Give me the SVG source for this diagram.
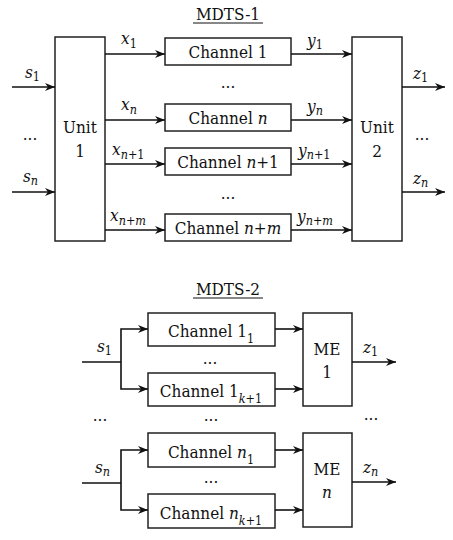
<svg xmlns="http://www.w3.org/2000/svg" width="453" height="540" viewBox="0 0 453 540">
<style>
text{font-family:'DejaVu Serif Condensed','DejaVu Serif',serif;font-stretch:semi-condensed;font-size:17px;fill:#111}
.c{text-anchor:middle}
.i{font-style:italic}
.s{font-size:12.5px}
.box{fill:#fff;stroke:#222;stroke-width:1.5}
.ln{fill:none;stroke:#111;stroke-width:1.6}
.ar{fill:none;stroke:#111;stroke-width:1.6;marker-end:url(#ah)}
</style>
<defs>
<marker id="ah" viewBox="0 0 10 8" refX="10" refY="4" markerWidth="10" markerHeight="8" markerUnits="userSpaceOnUse" orient="auto">
<path d="M0,0 L10,4 L0,8 L3,4 Z" fill="#111"/>
</marker>
</defs>
<rect width="453" height="540" fill="#fff"/>

<g id="title1">
<text class="c" x="228" y="20">MDTS-1</text>
<line x1="193" y1="23" x2="263" y2="23" stroke="#111" stroke-width="1"/>
</g>
<g id="unit1"><rect class="box" x="55" y="37" width="50" height="204"/><text class="c" x="80" y="133">Unit</text><text class="c" x="80" y="157">1</text></g>
<g id="ch1"><rect class="box" x="165" y="38" width="126" height="27"/><text class="c" x="228" y="58">Channel 1</text></g>
<g id="chn"><rect class="box" x="165" y="104" width="126" height="27"/><text class="c" x="228" y="124">Channel <tspan class="i">n</tspan></text></g>
<g id="chn1"><rect class="box" x="165" y="148" width="126" height="27"/><text class="c" x="228" y="168">Channel <tspan class="i">n</tspan>+1</text></g>
<g id="chnm"><rect class="box" x="165" y="214" width="126" height="27"/><text class="c" x="228" y="234">Channel <tspan class="i">n</tspan>+<tspan class="i">m</tspan></text></g>
<g id="unit2"><rect class="box" x="352" y="37" width="50" height="204"/><text class="c" x="377" y="133">Unit</text><text class="c" x="377" y="157">2</text></g>

<g id="title2">
<text class="c" x="228" y="295">MDTS-2</text>
<line x1="193" y1="298" x2="263" y2="298" stroke="#111" stroke-width="1"/>
</g>
<g id="c11"><rect class="box" x="148" y="313" width="127" height="33"/><text class="c" x="211" y="337">Channel 1<tspan class="s" dy="6">1</tspan></text></g>
<g id="c1k"><rect class="box" x="148" y="373" width="127" height="33"/><text class="c" x="211" y="397">Channel 1<tspan class="s i" dy="6">k</tspan><tspan class="s">+1</tspan></text></g>
<g id="cn1"><rect class="box" x="148" y="433" width="127" height="34"/><text class="c" x="211" y="458">Channel <tspan class="i">n</tspan><tspan class="s" dy="6">1</tspan></text></g>
<g id="cnk"><rect class="box" x="148" y="494" width="127" height="34"/><text class="c" x="211" y="519">Channel <tspan class="i">n</tspan><tspan class="s i" dy="6">k</tspan><tspan class="s">+1</tspan></text></g>
<g id="me1"><rect class="box" x="303" y="313" width="49" height="93"/><text class="c" x="327" y="355">ME</text><text class="c" x="327" y="378">1</text></g>
<g id="men"><rect class="box" x="303" y="433" width="49" height="94"/><text class="c" x="327" y="475">ME</text><text class="c i" x="327" y="498">n</text></g>

<g id="connectors">
<line class="ar" x1="12" y1="87" x2="55" y2="87"/>
<line class="ar" x1="12" y1="192" x2="55" y2="192"/>
<line class="ar" x1="105" y1="54" x2="165" y2="54"/>
<line class="ar" x1="105" y1="120" x2="165" y2="120"/>
<line class="ar" x1="105" y1="164" x2="165" y2="164"/>
<line class="ar" x1="105" y1="230" x2="165" y2="230"/>
<line class="ar" x1="291" y1="54" x2="352" y2="54"/>
<line class="ar" x1="291" y1="120" x2="352" y2="120"/>
<line class="ar" x1="291" y1="164" x2="352" y2="164"/>
<line class="ar" x1="291" y1="230" x2="352" y2="230"/>
<line class="ar" x1="402" y1="87" x2="445" y2="87"/>
<line class="ar" x1="402" y1="192" x2="445" y2="192"/>

<polyline class="ln" points="82,362 121,362"/>
<polyline class="ar" points="121,362 121,329 148,329"/>
<polyline class="ar" points="121,362 121,389 148,389"/>
<polyline class="ln" points="82,483 121,483"/>
<polyline class="ar" points="121,483 121,450 148,450"/>
<polyline class="ar" points="121,483 121,510 148,510"/>
<line class="ar" x1="275" y1="329" x2="303" y2="329"/>
<line class="ar" x1="275" y1="389" x2="303" y2="389"/>
<line class="ar" x1="275" y1="450" x2="303" y2="450"/>
<line class="ar" x1="275" y1="510" x2="303" y2="510"/>
<line class="ar" x1="352" y1="362" x2="396" y2="362"/>
<line class="ar" x1="352" y1="482" x2="396" y2="482"/>
</g>

<g id="labels">
<text x="25" y="78"><tspan class="i">s</tspan><tspan class="s" dy="3">1</tspan></text>
<text x="23" y="182"><tspan class="i">s</tspan><tspan class="s i" dy="3">n</tspan></text>
<text class="c" x="30" y="140">...</text>
<text x="121" y="44"><tspan class="i">x</tspan><tspan class="s" dy="4">1</tspan></text>
<text x="121" y="110"><tspan class="i">x</tspan><tspan class="s i" dy="4">n</tspan></text>
<text x="112" y="155"><tspan class="i">x</tspan><tspan class="s" dy="4"><tspan class="i">n</tspan>+1</tspan></text>
<text x="110" y="221"><tspan class="i">x</tspan><tspan class="s" dy="4"><tspan class="i">n</tspan>+<tspan class="i">m</tspan></tspan></text>
<text x="307" y="46"><tspan class="i">y</tspan><tspan class="s" dy="3">1</tspan></text>
<text x="307" y="112"><tspan class="i">y</tspan><tspan class="s i" dy="3">n</tspan></text>
<text x="298" y="156"><tspan class="i">y</tspan><tspan class="s" dy="3"><tspan class="i">n</tspan>+1</tspan></text>
<text x="297" y="222"><tspan class="i">y</tspan><tspan class="s" dy="3"><tspan class="i">n</tspan>+<tspan class="i">m</tspan></tspan></text>
<text class="c" x="228" y="88">...</text>
<text class="c" x="228" y="199">...</text>
<text x="413" y="79"><tspan class="i">z</tspan><tspan class="s" dy="3">1</tspan></text>
<text x="413" y="184"><tspan class="i">z</tspan><tspan class="s i" dy="3">n</tspan></text>
<text class="c" x="422" y="140">...</text>

<text x="97" y="352"><tspan class="i">s</tspan><tspan class="s" dy="3">1</tspan></text>
<text x="95" y="473"><tspan class="i">s</tspan><tspan class="s i" dy="3">n</tspan></text>
<text x="363" y="353"><tspan class="i">z</tspan><tspan class="s" dy="3">1</tspan></text>
<text x="363" y="473"><tspan class="i">z</tspan><tspan class="s i" dy="3">n</tspan></text>
<text class="c" x="210" y="364">...</text>
<text class="c" x="211" y="421">...</text>
<text class="c" x="211" y="483">...</text>
<text class="c" x="100" y="421">...</text>
<text class="c" x="371" y="420">...</text>
</g>
</svg>
